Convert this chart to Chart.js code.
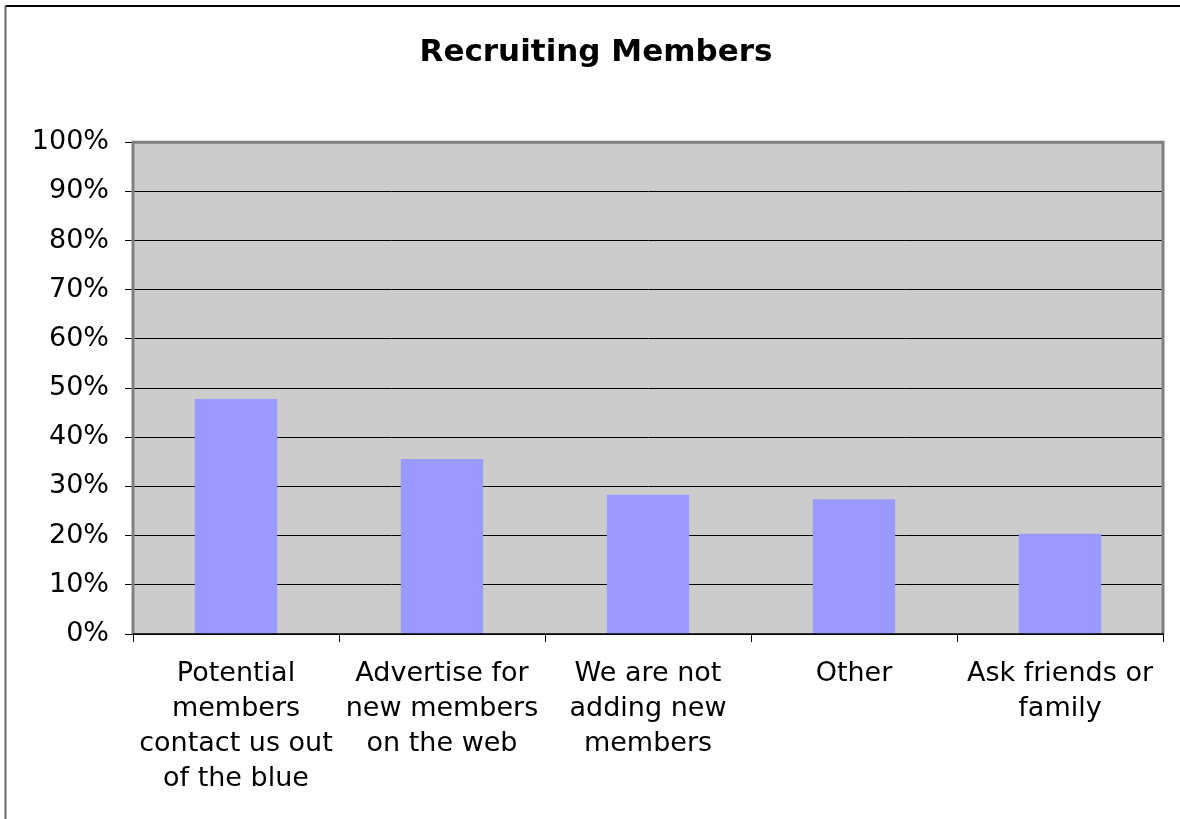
<!DOCTYPE html>
<html>
<head>
<meta charset="utf-8">
<script src="https://cdn.jsdelivr.net/npm/chart.js@4/dist/chart.umd.min.js"></script>
<style>
  html, body { margin: 0; padding: 0; background: #fff; }
  #wrap { width: 1180px; height: 819px; position: relative; }
</style>
</head>
<body>
<div id="wrap"><canvas id="grafico"></canvas></div>
<script>
// === Datos ===
const categorias = [
  ["Potential", "members", "contact us out", "of the blue"],
  ["Advertise for", "new members", "on the web"],
  ["We are not", "adding new", "members"],
  ["Other"],
  ["Ask friends or", "family"]
];
const porcentajes = [47.8, 35.6, 28.3, 27.4, 20.4];
const tituloTexto = "Recruiting Members";

const fuente = "'DejaVu Sans', Verdana, sans-serif";

// === Marco exterior y fondo del área de trazado ===
const marcoPlugin = {
  id: "marco",
  beforeDraw(chart) {
    const { ctx, chartArea: a } = chart;
    ctx.save();
    ctx.fillStyle = "#fff";
    ctx.fillRect(0, 0, chart.width, chart.height);
    // borde exterior (solo arriba e izquierda visibles)
    ctx.lineWidth = 2;
    ctx.beginPath();
    ctx.moveTo(1180, 6);
    ctx.lineTo(5.5, 6);
    ctx.strokeStyle = "#000";
    ctx.stroke();
    ctx.beginPath();
    ctx.moveTo(5.5, 6);
    ctx.lineTo(5.5, 819);
    ctx.strokeStyle = "#666";
    ctx.stroke();
    // fondo gris
    ctx.fillStyle = "#cccccc";
    ctx.fillRect(a.left, a.top, a.right - a.left, a.bottom - a.top);
    ctx.restore();
  },
  afterDraw(chart) {
    const { ctx, chartArea: a } = chart;
    ctx.save();
    ctx.strokeStyle = "#808080";
    ctx.lineWidth = 3;
    ctx.beginPath();
    ctx.moveTo(a.left, a.bottom);
    ctx.lineTo(a.left, a.top);
    ctx.lineTo(a.right, a.top);
    ctx.lineTo(a.right, a.bottom);
    ctx.stroke();
    ctx.strokeStyle = "#000";
    ctx.lineWidth = 1.5;
    ctx.beginPath();
    ctx.moveTo(a.left, a.bottom);
    ctx.lineTo(a.right + 1, a.bottom);
    ctx.stroke();
    ctx.restore();
  }
};

const ctx = document.getElementById("grafico").getContext("2d");

new Chart(ctx, {
  type: "bar",
  data: {
    labels: categorias,
    datasets: [{
      data: porcentajes,
      backgroundColor: "#9999ff",
      borderWidth: 0,
      categoryPercentage: 1,
      barPercentage: 0.4
    }]
  },
  options: {
    responsive: true,
    maintainAspectRatio: false,
    animation: false,
    layout: { padding: { left: 12, right: 0, top: 0, bottom: 0 } },
    plugins: {
      legend: { display: false },
      tooltip: { enabled: false },
      title: {
        display: true,
        text: tituloTexto,
        color: "#000",
        font: { family: fuente, size: 31, weight: "bold" },
        padding: { top: 34, bottom: 71 }
      }
    },
    scales: {
      y: {
        min: 0,
        max: 100,
        afterFit(scale) { scale.width = 121; },
        ticks: {
          stepSize: 10,
          color: "#000",
          padding: 16,
          font: { family: fuente, size: 27 },
          callback: (v) => v + "%"
        },
        grid: {
          color: "#000",
          lineWidth: 1,
          tickLength: 8,
          drawTicks: true
        },
        border: { display: true, color: "#000", width: 1 }
      },
      // eje vacío a la derecha, solo para dejar margen
      margenDer: {
        position: "right",
        min: 0,
        max: 100,
        afterFit(scale) { scale.width = 17; },
        ticks: { display: false },
        grid: { display: false },
        border: { display: false }
      },
      x: {
        offset: true,
        afterFit(scale) { scale.height = 185; },
        ticks: {
          color: "#000",
          padding: 14,
          maxRotation: 0,
          autoSkip: false,
          font: { family: fuente, size: 27, lineHeight: 1.3 }
        },
        grid: {
          offset: true,
          drawOnChartArea: false,
          drawTicks: true,
          tickLength: 8,
          color: "#000",
          lineWidth: 1
        },
        border: { display: true, color: "#000", width: 1 }
      }
    }
  },
  plugins: [marcoPlugin]
});
</script>
</body>
</html>
